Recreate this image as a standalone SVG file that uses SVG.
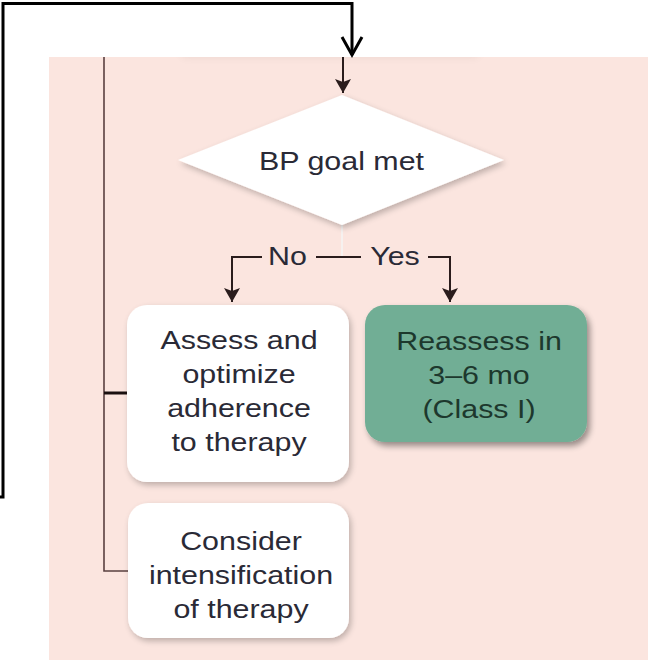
<svg xmlns="http://www.w3.org/2000/svg" width="648" height="660" viewBox="0 0 648 660">
  <defs>
    <style>
      .lbl { font-family: "Liberation Sans", Arial, sans-serif; font-size: 26px; text-anchor: middle; fill: #2a2a36; }
      .lbl-green { fill: #1d382d; }
      .flow { fill: none; stroke: #2a1c1c; stroke-width: 2; }
      .bracket { fill: none; stroke: #5a4040; stroke-width: 1.6; }
      .loop { fill: none; stroke: #000; stroke-width: 3; stroke-linejoin: miter; }
      .card { fill: #ffffff; filter: url(#shadow); }
      .card-green { fill: #71ae95; filter: url(#shadowDark); }
    </style>
    <filter id="shadow" x="-15%" y="-15%" width="135%" height="135%">
      <feGaussianBlur in="SourceAlpha" stdDeviation="3"/>
      <feOffset dx="2" dy="3"/>
      <feComponentTransfer><feFuncA type="linear" slope="0.25"/></feComponentTransfer>
      <feMerge><feMergeNode/><feMergeNode in="SourceGraphic"/></feMerge>
    </filter>
    <filter id="shadowDark" x="-15%" y="-15%" width="135%" height="135%">
      <feGaussianBlur in="SourceAlpha" stdDeviation="3"/>
      <feOffset dx="3" dy="4"/>
      <feComponentTransfer><feFuncA type="linear" slope="0.4"/></feComponentTransfer>
      <feMerge><feMergeNode/><feMergeNode in="SourceGraphic"/></feMerge>
    </filter>
    <filter id="soft" x="-20%" y="-200%" width="140%" height="500%">
      <feGaussianBlur stdDeviation="4"/>
    </filter>
    <clipPath id="panel"><rect x="49" y="57" width="599" height="603"/></clipPath>
    <marker id="arrow" viewBox="0 0 14 16" refX="14" refY="8" markerWidth="14" markerHeight="16" markerUnits="userSpaceOnUse" orient="auto">
      <path d="M0,0 L14,8 L0,16 L3,8 z" fill="#2a1c1c"/>
    </marker>
  </defs>

  <!-- panel background -->
  <rect x="0" y="0" width="648" height="660" fill="#ffffff"/>
  <rect x="49" y="57" width="599" height="603" fill="#fbe5df"/>
  <!-- faint shadow of the shape above the panel edge -->
  <g clip-path="url(#panel)">
    <rect x="180" y="46" width="300" height="12" rx="6" fill="#000" opacity="0.05" filter="url(#soft)"/>
  </g>

  <!-- connectors -->
  <g id="connectors">
    <path class="flow" d="M343,57 V93" marker-end="url(#arrow)"/>
    <path d="M342,225 V257" stroke="#f6f1ef" stroke-width="2" fill="none"/>
    <path class="flow" d="M262,257 H232 V302" marker-end="url(#arrow)"/>
    <path class="flow" d="M316,257 H361"/>
    <path class="flow" d="M428,257 H450 V302" marker-end="url(#arrow)"/>
    <text class="lbl" transform="translate(287.5,265) scale(1.17,1)">No</text>
    <text class="lbl" transform="translate(395,265) scale(1.17,1)">Yes</text>
    <!-- side bracket -->
    <path class="bracket" d="M104,57 V571 H128"/>
    <path d="M104,393 H127" stroke="#1a1010" stroke-width="3"/>
    <!-- loop back to the decision -->
    <path class="loop" d="M0,497 H3 V3.5 H352 V55"/>
    <path class="loop" d="M342,37 L352,55 L362,37"/>
  </g>

  <!-- decision -->
  <g id="bp-goal">
    <path class="card" d="M342,95 L504,160 L342,225 L178,160 z"/>
    <text class="lbl" transform="translate(341.5,170) scale(1.17,1)">BP goal met</text>
  </g>

  <g id="assess-adherence">
    <rect class="card" x="127" y="305" width="222" height="177" rx="20"/>
    <text class="lbl" transform="translate(239,349) scale(1.17,1)">Assess and</text>
    <text class="lbl" transform="translate(239,383) scale(1.17,1)">optimize</text>
    <text class="lbl" transform="translate(239,417) scale(1.17,1)">adherence</text>
    <text class="lbl" transform="translate(239,451) scale(1.17,1)">to therapy</text>
  </g>

  <g id="reassess">
    <rect class="card-green" x="365" y="305" width="222" height="137" rx="20"/>
    <text class="lbl lbl-green" transform="translate(479,350) scale(1.17,1)">Reassess in</text>
    <text class="lbl lbl-green" transform="translate(479,384) scale(1.17,1)">3–6 mo</text>
    <text class="lbl lbl-green" transform="translate(479,418) scale(1.17,1)">(Class I)</text>
  </g>

  <g id="intensify">
    <rect class="card" x="128" y="503" width="221" height="135" rx="20"/>
    <text class="lbl" transform="translate(241,550) scale(1.17,1)">Consider</text>
    <text class="lbl" transform="translate(241,584) scale(1.17,1)">intensification</text>
    <text class="lbl" transform="translate(241,618) scale(1.17,1)">of therapy</text>
  </g>
</svg>
